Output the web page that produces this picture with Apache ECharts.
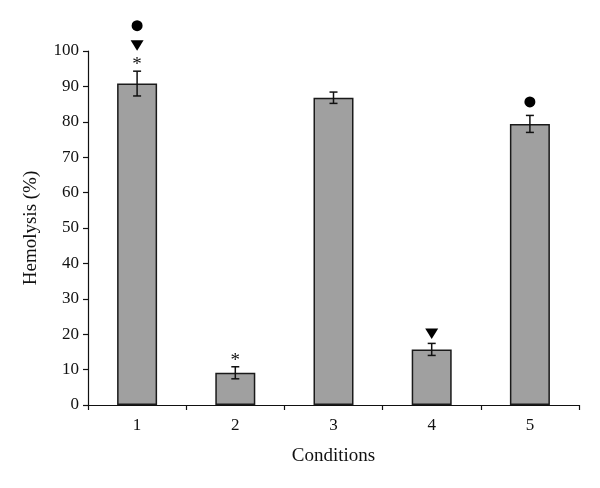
<!DOCTYPE html>
<html>
<head>
<meta charset="utf-8">
<script src="https://cdn.jsdelivr.net/npm/echarts@6/dist/echarts.min.js"></script>
<style>html,body{margin:0;padding:0;background:#fff;}#c{width:600px;height:488px;}</style>
</head>
<body>
<div id="c"></div>
<script>
const categories = ['1', '2', '3', '4', '5'];
const hemolysis = [90.8, 9.1, 86.8, 15.7, 79.4];
const errors = [3.5, 1.7, 1.6, 1.7, 2.4];
// significance markers per condition, listed from bottom to top
const markers = [['asterisk', 'triangle', 'circle'], ['asterisk'], [], ['triangle'], ['circle']];
const yTicks = [0, 10, 20, 30, 40, 50, 60, 70, 80, 90, 100];

const FONT = '"Liberation Serif", "DejaVu Serif", serif';
const chart = echarts.init(document.getElementById('c'));

const markerStyle = {
  asterisk: { gap: 4, h: 12 },
  triangle: { gap: 4, h: 12 },
  circle: { gap: 8, h: 11 }
};

chart.setOption({
  animation: false,
  backgroundColor: '#fff',
  grid: { left: 88, right: 21, top: 51, bottom: 83 },
  xAxis: {
    type: 'category',
    data: categories,
    boundaryGap: true,
    name: 'Conditions',
    nameLocation: 'middle',
    nameGap: 42,
    nameTextStyle: { fontFamily: FONT, fontSize: 19, color: '#111' },
    axisLine: { lineStyle: { color: '#111', width: 1.2 } },
    axisTick: { show: true, alignWithLabel: false, length: 5, lineStyle: { color: '#111', width: 1.2 } },
    axisLabel: { fontFamily: FONT, fontSize: 17, color: '#111', margin: 12 },
    splitLine: { show: false }
  },
  yAxis: {
    type: 'value',
    min: yTicks[0],
    max: yTicks[yTicks.length - 1],
    interval: 10,
    name: 'Hemolysis (%)',
    nameLocation: 'middle',
    nameGap: 47,
    nameRotate: 90,
    nameTextStyle: { fontFamily: FONT, fontSize: 19, color: '#111' },
    axisLine: { show: true, lineStyle: { color: '#111', width: 1.2 } },
    axisTick: { show: true, inside: false, length: 5, lineStyle: { color: '#111', width: 1.2 } },
    axisLabel: { fontFamily: FONT, fontSize: 17, color: '#111', margin: 9 },
    splitLine: { show: false }
  },
  series: [
    {
      type: 'bar',
      data: hemolysis,
      barWidth: 40,
      itemStyle: { color: '#a0a0a0', borderColor: '#1a1a1a', borderWidth: 1.5 },
      z: 2
    },
    {
      type: 'custom',
      data: hemolysis.map((v, i) => [i, v, errors[i]]),
      z: 5,
      renderItem: function (params, api) {
        const i = api.value(0);
        const v = api.value(1);
        const e = api.value(2);
        const top = api.coord([i, v + e]);
        const bot = api.coord([i, v - e]);
        const x = top[0];
        const cap = 4;
        const ls = { stroke: '#111', lineWidth: 1.5 };
        const children = [
          { type: 'line', shape: { x1: x, y1: top[1], x2: x, y2: bot[1] }, style: ls },
          { type: 'line', shape: { x1: x - cap, y1: top[1], x2: x + cap, y2: top[1] }, style: ls },
          { type: 'line', shape: { x1: x - cap, y1: bot[1], x2: x + cap, y2: bot[1] }, style: ls }
        ];
        let cursor = top[1];
        (markers[i] || []).forEach(function (m) {
          const st = markerStyle[m];
          cursor -= st.gap;
          const cy = cursor - st.h / 2;
          cursor -= st.h;
          if (m === 'asterisk') {
            children.push({
              type: 'text',
              style: { text: '*', x: x, y: cy + 4, fontFamily: FONT, fontSize: 19, fill: '#111', align: 'center', verticalAlign: 'middle' }
            });
          } else if (m === 'triangle') {
            children.push({
              type: 'polygon',
              shape: { points: [[x - 6.5, cy - 5], [x + 6.5, cy - 5], [x, cy + 5.5]] },
              style: { fill: '#000' }
            });
          } else if (m === 'circle') {
            children.push({
              type: 'circle',
              shape: { cx: x, cy: cy, r: 5.5 },
              style: { fill: '#000' }
            });
          }
        });
        return { type: 'group', children: children };
      }
    }
  ]
});
</script>
</body>
</html>
